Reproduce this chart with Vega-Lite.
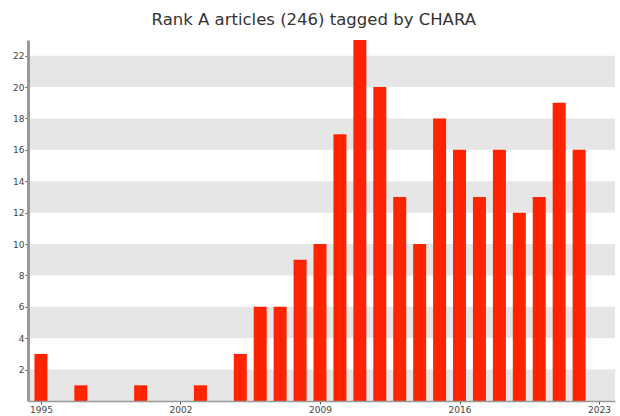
{
  "$schema": "https://vega.github.io/schema/vega-lite/v6.json",
  "width": 587,
  "height": 361,
  "autosize": "none",
  "padding": {"left": 28, "top": 40, "right": 5, "bottom": 15},
  "background": "white",
  "title": {"text": "Rank A articles (246) tagged by CHARA", "fontSize": 16.5, "font": "DejaVu Sans", "fontWeight": "normal", "color": "#333333", "offset": 12, "anchor": "middle", "frame": "bounds"},
  "config": {
    "view": {"stroke": null},
    "axis": {"grid": false, "zindex": 1, "labelOverlap": false, "domainColor": "#999999", "tickColor": "#555555", "tickSize": 3,
             "labelFontSize": 9, "labelColor": "#444444", "labelFont": "DejaVu Sans", "labelPadding": 1, "title": null},
    "axisY": {"domainWidth": 3},
    "axisX": {"domainWidth": 1.5}
  },
  "layer": [
    {
      "data": {"values": [
        {"lo": 0, "hi": 2}, {"lo": 4, "hi": 6}, {"lo": 8, "hi": 10},
        {"lo": 12, "hi": 14}, {"lo": 16, "hi": 18}, {"lo": 20, "hi": 22}
      ]},
      "mark": {"type": "rect", "color": "#e6e6e6"},
      "encoding": {
        "y": {"field": "lo", "type": "quantitative", "scale": {"domain": [0, 23], "nice": false},
              "axis": {"title": null, "values": [2, 4, 6, 8, 10, 12, 14, 16, 18, 20, 22], "labelOverlap": false, "zindex": 1}},
        "y2": {"field": "hi"}
      }
    },
    {
      "data": {"values": [
        {"year": 1995, "count": 3}, {"year": 1997, "count": 1}, {"year": 2000, "count": 1},
        {"year": 2003, "count": 1}, {"year": 2005, "count": 3}, {"year": 2006, "count": 6},
        {"year": 2007, "count": 6}, {"year": 2008, "count": 9}, {"year": 2009, "count": 10},
        {"year": 2010, "count": 17}, {"year": 2011, "count": 23}, {"year": 2012, "count": 20},
        {"year": 2013, "count": 13}, {"year": 2014, "count": 10}, {"year": 2015, "count": 18},
        {"year": 2016, "count": 16}, {"year": 2017, "count": 13}, {"year": 2018, "count": 16},
        {"year": 2019, "count": 12}, {"year": 2020, "count": 13}, {"year": 2021, "count": 19},
        {"year": 2022, "count": 16}
      ]},
      "mark": {"type": "bar", "color": "#ff2400", "size": 13},
      "encoding": {
        "x": {"field": "year", "type": "quantitative",
              "scale": {"domain": [1994.6, 2023.55], "nice": false, "zero": false},
              "axis": {"title": null, "values": [1995, 2002, 2009, 2016, 2023], "format": "d", "labelOverlap": false, "zindex": 1}},
        "y": {"field": "count", "type": "quantitative",
              "scale": {"domain": [0, 23], "nice": false},
              "axis": {"title": null, "values": [2, 4, 6, 8, 10, 12, 14, 16, 18, 20, 22], "labelOverlap": false, "zindex": 1}}
      }
    }
  ]
}
